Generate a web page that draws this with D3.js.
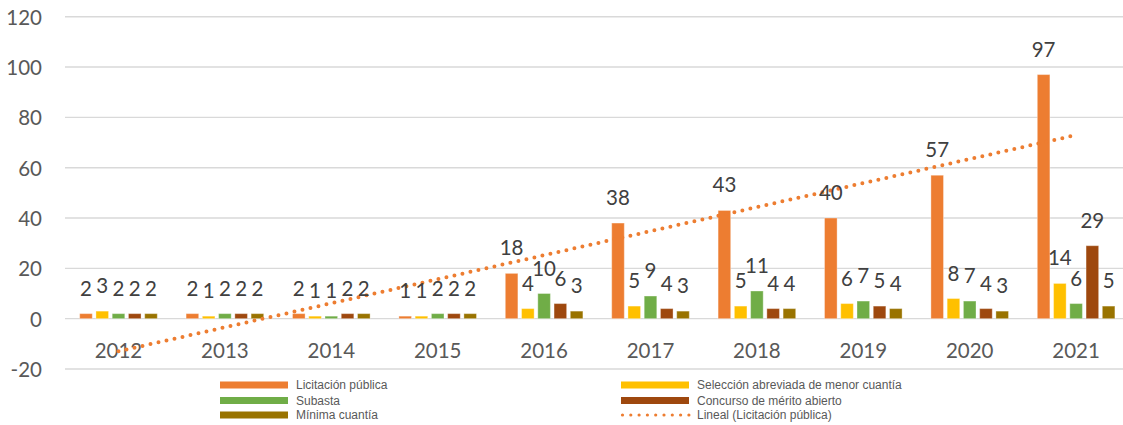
<!DOCTYPE html>
<html><head><meta charset="utf-8">
<script src="https://cdn.jsdelivr.net/npm/d3@7"></script>
<style>html,body{margin:0;padding:0;background:#fff;}svg{display:block;}</style>
</head><body><svg id="chart" width="1123" height="425"></svg>
<script>
const years = ["2012","2013","2014","2015","2016","2017","2018","2019","2020","2021"];
const seriesNames = ["Licitación pública","Selección abreviada de menor cuantía","Subasta","Concurso de mérito abierto","Mínima cuantía"];
const licitacion = [2,2,2,1,18,38,43,40,57,97];
const seleccion  = [3,1,1,1,4,5,5,6,8,14];
const subasta    = [2,2,1,2,10,9,11,7,7,6];
const concurso   = [2,2,2,2,6,4,4,5,4,29];
const minima     = [2,2,2,2,3,3,4,4,3,5];
const yTicks = [-20,0,20,40,60,80,100,120];
const trendName = "Lineal (Licitación pública)";
const colors = ["#ED7D31","#FFC000","#70AD47","#9E480E","#997300"];
const allSeries = [licitacion, seleccion, subasta, concurso, minima];

const svg = d3.select("#chart");
const y = d3.scaleLinear().domain([-20,120]).range([369,16.7]);
const x0 = d3.scaleBand().domain(years).range([65.3,1129.3]).paddingInner(0.2707).paddingOuter(0.1353);
const x1 = d3.scaleBand().domain(d3.range(5)).range([0,x0.bandwidth()]).paddingInner(0.225);

// gridlines
svg.append("g").selectAll("line").data(yTicks).join("line")
  .attr("x1",65).attr("x2",1123)
  .attr("y1",d=>y(d)).attr("y2",d=>y(d))
  .attr("stroke","#d9d9d9").attr("stroke-width",1.4);

// y tick labels
svg.append("g").selectAll("text").data(yTicks).join("text")
  .attr("x",42).attr("y",d=>y(d)+8)
  .attr("text-anchor","end")
  .attr("font-family","Lato, sans-serif").attr("font-size",20.5)
  .attr("fill","#595959").text(d=>d);

// bars
const gBars = svg.append("g");
allSeries.forEach((vals,si)=>{
  gBars.append("g").selectAll("rect").data(vals).join("rect")
    .attr("x",(d,i)=>x0(years[i])+x1(si))
    .attr("width",x1.bandwidth())
    .attr("y",d=>y(Math.max(0,d)))
    .attr("height",d=>Math.abs(y(d)-y(0)))
    .attr("fill",colors[si])
    .attr("stroke","rgba(255,255,255,0.35)").attr("stroke-width",1);
});

// year labels
svg.append("g").selectAll("text").data(years).join("text")
  .attr("x",d=>x0(d)+x0.bandwidth()/2).attr("y",358)
  .attr("text-anchor","middle")
  .attr("font-family","Lato, sans-serif").attr("font-size",20.5)
  .attr("fill","#595959").text(d=>d);

// trend line (linear regression of Licitación pública)
const xs = years.map((d,i)=>i+1);
const mx = d3.mean(xs), my = d3.mean(licitacion);
const slope = d3.sum(xs.map((xv,i)=>(xv-mx)*(licitacion[i]-my)))/d3.sum(xs.map(xv=>(xv-mx)*(xv-mx)));
const intercept = my - slope*mx;
const trendPts = [years[0], years[years.length-1]].map((yr)=>{
  const idx = years.indexOf(yr)+1;
  return [x0(yr)+x0.bandwidth()/2, y(intercept+slope*idx)];
});
svg.append("path").attr("d",d3.line()(trendPts))
  .attr("fill","none").attr("stroke","#ED7D31").attr("stroke-width",4)
  .attr("stroke-linecap","round").attr("stroke-dasharray","0 8.2");

// data labels
const gLab = svg.append("g");
allSeries.forEach((vals,si)=>{
  gLab.append("g").selectAll("text").data(vals).join("text")
    .attr("x",(d,i)=>x0(years[i])+x1(si)+x1.bandwidth()/2)
    .attr("y",d=>y(d)-18)
    .attr("text-anchor","middle")
    .attr("font-family","Lato, sans-serif").attr("font-size",20.5)
    .attr("fill","#404040").text(d=>d);
});

// legend
const legendItems = [
  {name:seriesNames[0], color:colors[0], x:220, y:385},
  {name:seriesNames[1], color:colors[1], x:621, y:385},
  {name:seriesNames[2], color:colors[2], x:220, y:400.5},
  {name:seriesNames[3], color:colors[3], x:621, y:400.5},
  {name:seriesNames[4], color:colors[4], x:220, y:415},
  {name:trendName, color:colors[0], x:621, y:415, dotted:true}
];
const gLeg = svg.append("g");
legendItems.forEach(it=>{
  if(it.dotted){
    gLeg.append("line").attr("x1",it.x+1.5).attr("x2",it.x+68).attr("y1",it.y).attr("y2",it.y)
      .attr("stroke",it.color).attr("stroke-width",3.2).attr("stroke-linecap","round")
      .attr("stroke-dasharray","0 8.3");
  } else {
    gLeg.append("rect").attr("x",it.x).attr("y",it.y-3.5).attr("width",68).attr("height",7).attr("fill",it.color);
  }
  gLeg.append("text").attr("x",it.x+76).attr("y",it.y+4.3)
    .attr("font-family","'Liberation Sans', Arial, sans-serif").attr("font-size",12)
    .attr("fill","#595959").text(it.name);
});
</script></body></html>
